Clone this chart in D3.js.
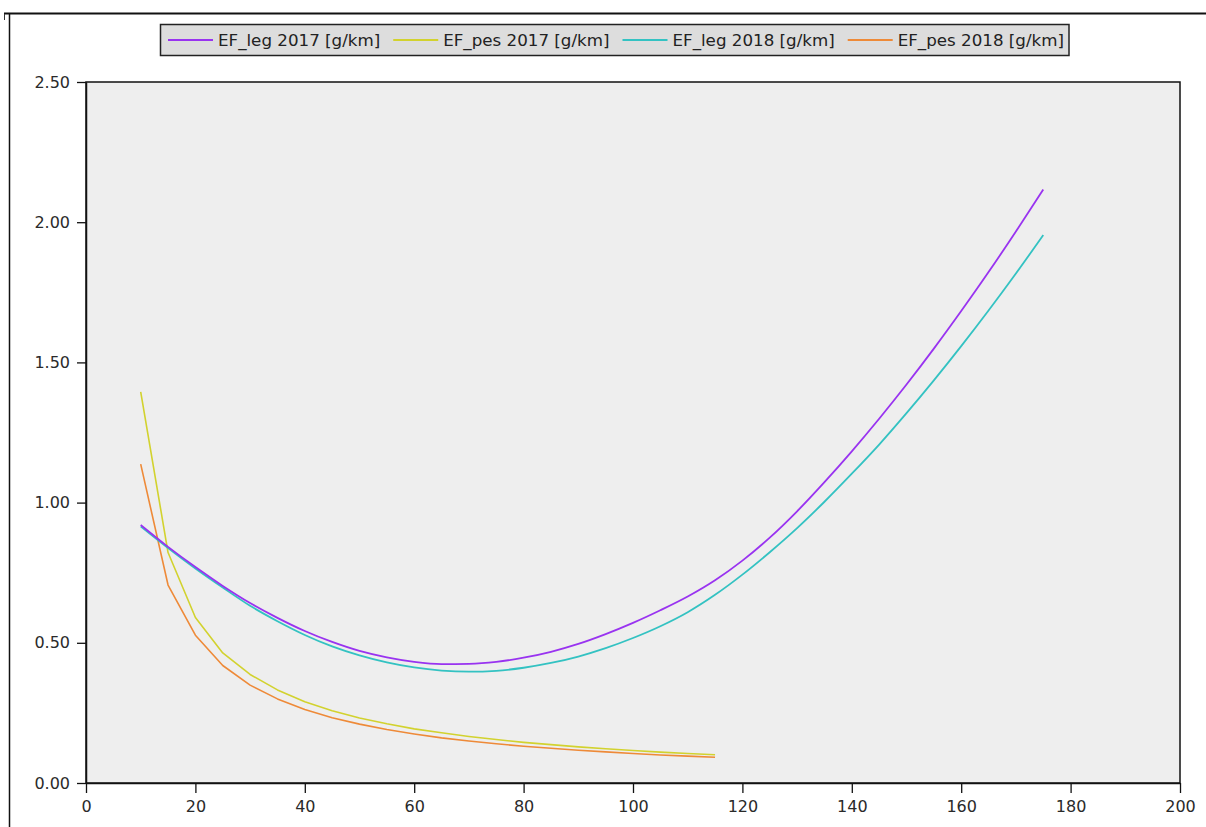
<!DOCTYPE html>
<html lang="en">

<head>
    <meta charset="UTF-8">
    <title>EF</title>
    <script src="https://d3js.org/d3.v7.min.js"></script>
</head>

<style>
    body {
        margin: 0;
        background: #ffffff;
    }

    svg text {
        font-family: "DejaVu Sans", sans-serif;
    }
</style>

<body>
    <svg id="chart"></svg>
</body>

<script>
    // Data
    var legX = [10, 15, 20, 25, 30, 35, 40, 45, 50, 55, 60, 65, 70, 75, 80, 85, 90, 95, 100,
        105, 110, 115, 120, 125, 130, 135, 140, 145, 150, 155, 160, 165, 170, 175];
    var leg2017 = [0.920, 0.842, 0.770, 0.703, 0.642, 0.589, 0.542, 0.503, 0.471, 0.448, 0.432, 0.424,
        0.425, 0.432, 0.447, 0.468, 0.496, 0.531, 0.571, 0.616, 0.665, 0.723, 0.793, 0.875, 0.969, 1.073,
        1.183, 1.299, 1.421, 1.549, 1.683, 1.822, 1.967, 2.117];
    var leg2018 = [0.915, 0.838, 0.765, 0.697, 0.632, 0.577, 0.528, 0.487, 0.455, 0.430, 0.412, 0.401,
        0.397, 0.400, 0.411, 0.428, 0.451, 0.481, 0.517, 0.559, 0.609, 0.671, 0.743, 0.823, 0.909, 1.003,
        1.103, 1.207, 1.319, 1.436, 1.558, 1.685, 1.817, 1.954];

    var pesX = [10, 15, 20, 25, 30, 35, 40, 45, 50, 55, 60, 65, 70, 75, 80, 85, 90, 95, 100, 105, 110, 115];
    var pes2017 = [1.395, 0.822, 0.590, 0.464, 0.387, 0.332, 0.290, 0.258, 0.232, 0.211, 0.193, 0.179,
        0.166, 0.155, 0.145, 0.137, 0.129, 0.122, 0.116, 0.110, 0.105, 0.101];
    var pes2018 = [1.137, 0.706, 0.527, 0.419, 0.349, 0.300, 0.262, 0.233, 0.210, 0.191, 0.175, 0.161,
        0.150, 0.140, 0.131, 0.124, 0.117, 0.111, 0.105, 0.100, 0.096, 0.092];

    var seriesNames = ["EF_leg 2017 [g/km]", "EF_pes 2017 [g/km]", "EF_leg 2018 [g/km]", "EF_pes 2018 [g/km]"];
    var seriesColors = ["#9933f0", "#d2d22e", "#33c2c2", "#ee8a38"];

    var xTicks = [0, 20, 40, 60, 80, 100, 120, 140, 160, 180, 200];
    var yTicks = [0, 0.5, 1, 1.5, 2, 2.5];

    // Constants
    var W = 1206, H = 827;
    var margin = { top: 82, right: 26, bottom: 44, left: 86 },
        width = W - margin.left - margin.right,
        height = H - margin.top - margin.bottom;

    var svg = d3.select("#chart")
        .attr("width", W)
        .attr("height", H);

    // outer frame (top and left edges visible)
    svg.append("line")
        .attr("x1", 4).attr("x2", W).attr("y1", 13.5).attr("y2", 13.5)
        .attr("stroke", "#111").attr("stroke-width", 2);
    svg.append("line")
        .attr("x1", 9.5).attr("x2", 9.5).attr("y1", 14).attr("y2", H)
        .attr("stroke", "#111").attr("stroke-width", 1.5);
    svg.append("line")
        .attr("x1", 4.5).attr("x2", 4.5).attr("y1", 14).attr("y2", 20)
        .attr("stroke", "#333").attr("stroke-width", 1);

    var chart = svg.append("g")
        .attr("transform", "translate(" + margin.left + "," + margin.top + ")");

    var x = d3.scaleLinear().domain([0, 200]).range([0, width]);
    var y = d3.scaleLinear().domain([0, 2.5]).range([height, 0]);

    chart.append("rect")
        .attr("x", 0).attr("y", 0)
        .attr("width", width).attr("height", height)
        .attr("fill", "#eeeeee")
        .attr("stroke", "#111")
        .attr("stroke-width", 1.5);

    // Axes
    var yAxis = chart.append("g")
        .call(d3.axisLeft(y).tickValues(yTicks).tickFormat(d3.format(".2f"))
            .tickSize(9).tickSizeOuter(0).tickPadding(7));

    var xAxis = chart.append("g")
        .attr("transform", "translate(0," + height + ")")
        .call(d3.axisBottom(x).tickValues(xTicks).tickFormat(d3.format("d"))
            .tickSize(10).tickSizeOuter(0).tickPadding(8));

    [xAxis, yAxis].forEach(function (a) {
        a.select(".domain").attr("stroke", "#111").attr("stroke-width", 1.5);
        a.selectAll(".tick line").attr("stroke", "#111").attr("stroke-width", 1.3);
        a.selectAll(".tick text")
            .attr("font-size", 16)
            .attr("font-family", "DejaVu Sans")
            .attr("fill", "#2a2a2a");
    });

    // Lines
    var series = [
        { xs: legX, ys: leg2017, w: 1.8, curve: d3.curveMonotoneX },
        { xs: pesX, ys: pes2017, w: 1.6, curve: d3.curveLinear },
        { xs: legX, ys: leg2018, w: 1.8, curve: d3.curveMonotoneX },
        { xs: pesX, ys: pes2018, w: 1.6, curve: d3.curveLinear }
    ];

    // draw pes lines first, then leg 2018, then leg 2017 on top
    [1, 3, 2, 0].forEach(function (i) {
        var s = series[i];
        var line = d3.line()
            .curve(s.curve)
            .x(function (d) { return x(d[0]); })
            .y(function (d) { return y(d[1]); });
        chart.append("path")
            .datum(s.xs.map(function (v, k) { return [v, s.ys[k]]; }))
            .attr("fill", "none")
            .attr("stroke", seriesColors[i])
            .attr("stroke-width", s.w)
            .attr("stroke-linejoin", "round")
            .attr("d", line);
    });

    // Legend
    var legend = svg.append("g");
    var legendBox = legend.append("rect")
        .attr("x", 160.5).attr("y", 24.5)
        .attr("height", 31)
        .attr("fill", "#dddddd")
        .attr("stroke", "#222")
        .attr("stroke-width", 1.5);

    var lx = 168;
    seriesNames.forEach(function (name, i) {
        legend.append("line")
            .attr("x1", lx).attr("x2", lx + 45)
            .attr("y1", 40).attr("y2", 40)
            .attr("stroke", seriesColors[i])
            .attr("stroke-width", 1.8);
        var t = legend.append("text")
            .attr("x", lx + 50)
            .attr("y", 40)
            .attr("dy", "0.35em")
            .attr("font-size", 16.7)
            .attr("fill", "#222")
            .text(name);
        lx = lx + 50 + t.node().getComputedTextLength() + 13;
    });
    legendBox.attr("width", lx - 13 + 5 - 160.5);
</script>

</html>
